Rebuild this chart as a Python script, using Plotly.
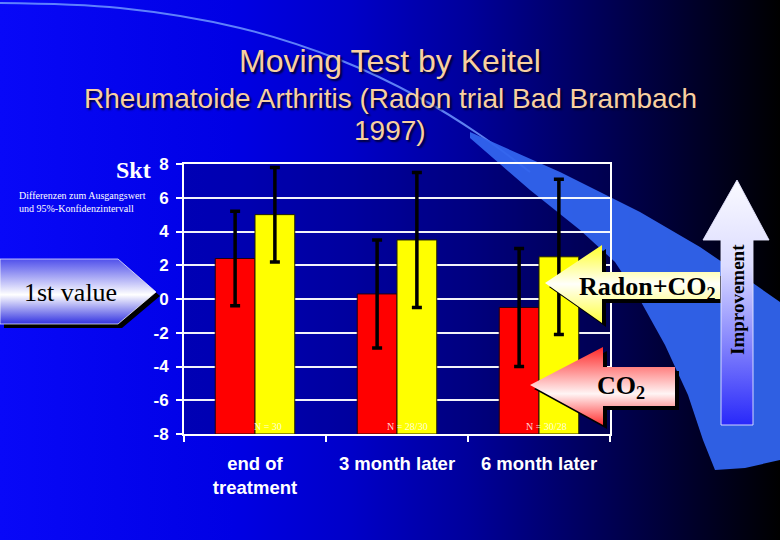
import plotly.graph_objects as go

W, H = 780, 540

# ---------------- data ----------------
CATEGORIES = ["end of<br>treatment", "3 month later", "6 month later"]
CO2_VALUES = [2.4, 0.3, -0.5]
CO2_ERRORS = [2.8, 3.2, 3.5]
RADON_VALUES = [5.0, 3.5, 2.5]
RADON_ERRORS = [2.8, 4.0, 4.6]
N_LABELS = ["N = 30", "N = 28/30", "N = 30/28"]
Y_TICKS = [-8, -6, -4, -2, 0, 2, 4, 6, 8]
Y_TICK_LABELS = ["-8", "-6", "-4", "-2", "0", "2", "4", "6", "8"]
Y_MIN, Y_MAX = -8, 8

SANS = "Liberation Sans, Arial, sans-serif"
SERIF = "Liberation Serif, Times New Roman, serif"


def flip(pts):
    return [p[0] for p in pts] + [pts[0][0]], [H - p[1] for p in pts] + [H - pts[0][1]]


def poly(pts, ax, fillcolor=None, line_color=None, line_width=0, gradient=None, mode="lines"):
    xs, ys = flip(pts)
    kw = dict(x=xs, y=ys, mode=mode, fill="toself", hoverinfo="skip", showlegend=False,
              xaxis=ax[0], yaxis=ax[1],
              line=dict(color=line_color or "rgba(0,0,0,0)", width=line_width))
    if gradient is not None:
        kw["fillgradient"] = gradient
    else:
        kw["fillcolor"] = fillcolor
    return go.Scatter(**kw)


def shift(pts, dx, dy):
    return [(x + dx, y + dy) for x, y in pts]


BG = ("x", "y")
OV = ("x3", "y3")

fig = go.Figure()

# ---------------- background (subplot 1) ----------------
fig.add_trace(poly([(0, 0), (W, 0), (W, H), (0, H)], BG, gradient=dict(
    type="horizontal", start=0, stop=W,
    colorscale=[[0, "rgb(8,8,248)"], [0.3, "rgb(0,0,228)"], [0.45, "rgb(0,0,200)"],
                [0.6, "rgb(0,0,155)"], [0.75, "rgb(0,0,95)"], [0.88, "rgb(0,0,45)"],
                [1, "rgb(0,0,0)"]])))

# plot-area tint
fig.add_trace(poly([(184, 164), (610, 164), (610, 434), (184, 434)], BG,
                   fillcolor="rgba(0,0,70,0.32)"))

# swoosh thin line
sw_x = [0, 120, 240, 340, 420, 480, 530]
sw_y = [3, 8, 28, 60, 98, 135, 172]
fig.add_trace(go.Scatter(x=sw_x, y=[H - v for v in sw_y], mode="lines", xaxis="x", yaxis="y",
                         line=dict(color="rgba(110,150,255,0.85)", width=2, shape="spline"),
                         hoverinfo="skip", showlegend=False))

# swoosh band
band = [(470, 132), (560, 172), (640, 212), (700, 247), (750, 281), (780, 302),
        (780, 460), (745, 468), (715, 470), (703, 440), (688, 395), (665, 345),
        (640, 300), (615, 262), (580, 230), (530, 190), (470, 138)]
fig.add_trace(poly(band, BG, fillcolor="rgba(50,100,238,0.95)"))

# ---------------- chart (subplot 2) ----------------
fig.add_trace(go.Bar(
    x=CATEGORIES, y=[v - Y_MIN for v in CO2_VALUES], base=Y_MIN, name="CO2",
    marker=dict(color="#ff0000", line=dict(color="#200010", width=1)),
    error_y=dict(type="data", array=CO2_ERRORS, color="black", thickness=3.5, width=5),
    xaxis="x2", yaxis="y2", showlegend=False, hoverinfo="skip"))
fig.add_trace(go.Bar(
    x=CATEGORIES, y=[v - Y_MIN for v in RADON_VALUES], base=Y_MIN, name="Radon+CO2",
    marker=dict(color="#ffff00", line=dict(color="#202000", width=1)),
    error_y=dict(type="data", array=RADON_ERRORS, color="black", thickness=3.5, width=5),
    xaxis="x2", yaxis="y2", showlegend=False, hoverinfo="skip"))

# ---------------- overlay arrows (subplot 3) ----------------
first_value = [(0, 259), (118, 259), (156, 292), (118, 324), (0, 324)]
radon_arrow = [(545, 283), (602, 245), (602, 272), (720, 272), (720, 299), (602, 299), (602, 323)]
co2_arrow = [(530, 385), (603, 347), (603, 367), (675, 367), (675, 406), (603, 406), (603, 425)]
improve_arrow = [(737, 180), (769, 240), (753, 240), (753, 425), (721, 425), (721, 240), (703, 240)]

for pts in (first_value, radon_arrow, co2_arrow):
    fig.add_trace(poly(shift(pts, 4, 4), OV, fillcolor="black"))

fig.add_trace(poly(first_value, OV, line_color="rgba(255,255,255,0.7)", line_width=1, gradient=dict(
    type="vertical", start=H - 259, stop=H - 324,
    colorscale=[[0, "rgb(80,80,235)"], [0.55, "rgb(255,255,255)"], [1, "rgb(50,50,225)"]])))
fig.add_trace(poly(radon_arrow, OV, gradient=dict(
    type="vertical", start=H - 245, stop=H - 323,
    colorscale=[[0, "rgb(255,255,40)"], [0.5, "rgb(255,255,250)"], [1, "rgb(255,255,60)"]])))
fig.add_trace(poly(co2_arrow, OV, gradient=dict(
    type="vertical", start=H - 347, stop=H - 425,
    colorscale=[[0, "rgb(255,40,40)"], [0.6, "rgb(255,245,245)"], [1, "rgb(255,50,50)"]])))
fig.add_trace(poly(improve_arrow, OV, line_color="rgba(230,230,255,0.9)", line_width=1, gradient=dict(
    type="vertical", start=H - 180, stop=H - 425,
    colorscale=[[0, "rgb(250,250,255)"], [0.35, "rgb(220,220,255)"], [1, "rgb(40,40,250)"]])))

# ---------------- annotations ----------------
TITLE_COLOR = "#f8d0a0"
SHADOW = "2px 2px 2px rgba(0,0,40,0.9)"
ann = []


def txt(text, x, y, size, family=SANS, color="white", weight="normal", xanchor="center",
        align="center", angle=0, shadow="none"):
    ann.append(dict(text=text, x=x, y=H - y, xref="x3", yref="y3", showarrow=False,
                    xanchor=xanchor, yanchor="middle", align=align, textangle=angle,
                    font=dict(family=family, size=size, color=color, weight=weight, shadow=shadow)))


txt("Moving Test by Keitel", 390, 61, 32, color=TITLE_COLOR, shadow=SHADOW)
txt("Rheumatoide Arthritis (Radon trial Bad Brambach", 390, 98, 28, color=TITLE_COLOR, shadow=SHADOW)
txt("1997)", 390, 130, 28, color=TITLE_COLOR, shadow=SHADOW)
txt("Skt", 153, 170, 24, family=SERIF, weight="bold", xanchor="right")
txt("Differenzen zum Ausgangswert<br>und 95%-Konfidenzintervall", 17, 202, 10, family=SERIF,
    xanchor="left", align="left")
txt("1st value", 70, 292, 26, family=SERIF, color="black")
txt("Radon+CO<sub>2</sub>", 647, 288, 26, family=SERIF, color="black", weight="bold")
txt("CO<sub>2</sub>", 621, 387, 26, family=SERIF, color="black", weight="bold")
txt("Improvement", 737, 300, 19, family=SERIF, color="black", weight="bold", angle=-90)

for cat, lab, dx in zip(CATEGORIES, N_LABELS, [13, 10, 7]):
    ann.append(dict(text=lab, x=cat, y=Y_MIN, xref="x2", yref="y2", showarrow=False,
                    xanchor="center", yanchor="bottom", xshift=dx, yshift=0,
                    font=dict(family=SERIF, size=10, color="rgba(255,255,255,0.85)")))

hidden = dict(visible=False, showgrid=False, zeroline=False, fixedrange=True)

fig.update_layout(
    width=W, height=H, autosize=False,
    margin=dict(l=0, r=0, t=0, b=0, pad=0, autoexpand=False),
    paper_bgcolor="black", plot_bgcolor="rgba(0,0,0,0)",
    barmode="group", bargap=0.44, bargroupgap=0,
    showlegend=False,
    annotations=ann,
    xaxis=dict(domain=[0, 1], range=[0, W], anchor="y", **hidden),
    yaxis=dict(domain=[0, 1], range=[0, H], anchor="x", **hidden),
    xaxis3=dict(domain=[0, 1], range=[0, W], anchor="y3", **hidden),
    yaxis3=dict(domain=[0, 1], range=[0, H], anchor="x3", **hidden),
    xaxis2=dict(domain=[184 / W, 610 / W], anchor="y2", type="category",
                showline=True, linecolor="white", linewidth=2, mirror=True,
                ticks="outside", tickson="boundaries", ticklen=6, tickwidth=2, tickcolor="white",
                showgrid=False, ticklabelstandoff=12, fixedrange=True,
                tickfont=dict(family=SANS, size=18.5, color="white", weight="bold")),
    yaxis2=dict(domain=[(H - 434) / H, (H - 164) / H], anchor="x2", range=[Y_MIN, Y_MAX],
                tickvals=Y_TICKS, ticktext=Y_TICK_LABELS,
                showgrid=True, gridcolor="rgba(255,255,255,0.95)", gridwidth=2,
                showline=True, linecolor="white", linewidth=2, mirror=True, zeroline=False,
                ticks="outside", ticklen=6, tickwidth=2, tickcolor="white", fixedrange=True,
                ticklabelstandoff=4,
                tickfont=dict(family=SANS, size=17, color="white", weight="bold")),
)

fig.write_html("out.html", config={"displayModeBar": False, "responsive": False},
               post_script="document.body.style.margin='0px';document.body.style.overflow='hidden';")
